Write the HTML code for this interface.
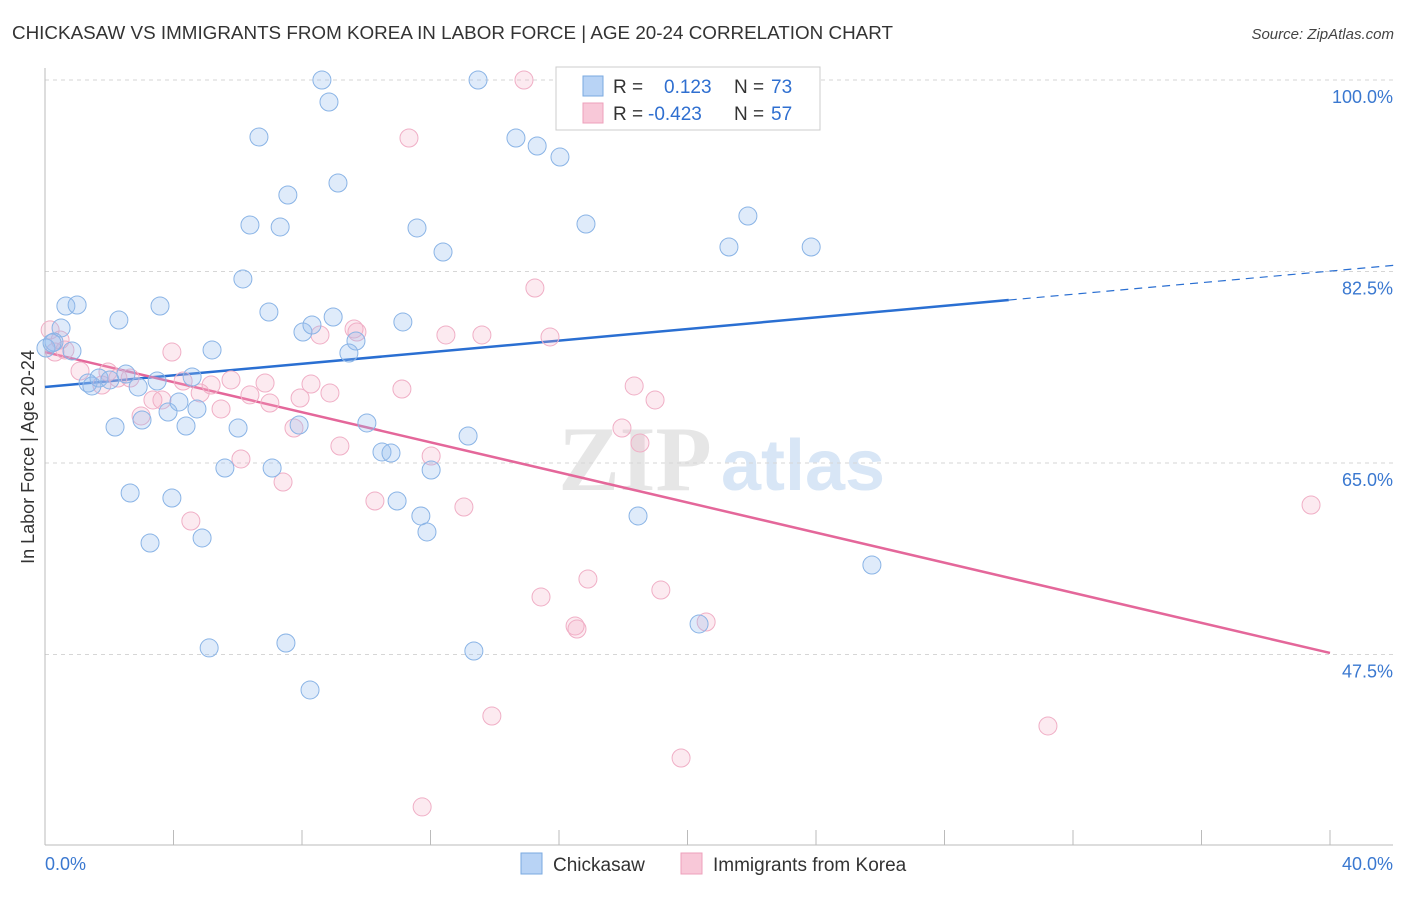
<!DOCTYPE html>
<html><head><meta charset="utf-8">
<style>
body{margin:0;background:#fff;font-family:"Liberation Sans",sans-serif;}
</style></head>
<body>
<svg id="c" width="1406" height="892" xmlns="http://www.w3.org/2000/svg" style="font-family:'Liberation Sans',sans-serif">
<text x="12" y="39" font-size="18.6" fill="#333" textLength="881" lengthAdjust="spacingAndGlyphs">CHICKASAW VS IMMIGRANTS FROM KOREA IN LABOR FORCE | AGE 20-24 CORRELATION CHART</text>
<text x="1394" y="39" font-size="15" fill="#444" text-anchor="end" font-style="italic">Source: ZipAtlas.com</text>
<g>
<text x="635" y="490" font-size="92" fill="#e6e6e6" text-anchor="middle" font-family="Liberation Serif,serif" font-weight="bold">ZIP</text>
<text x="803" y="490" font-size="72" fill="#d8e6f6" text-anchor="middle" font-weight="bold">atlas</text>
</g>
<g id="grid"></g>
<g id="axes"></g>
<g id="trend"></g>
<g id="pts"></g>
<text transform="translate(34,457) rotate(-90)" font-size="18" fill="#333" text-anchor="middle">In Labor Force | Age 20-24</text>
<g>
<rect x="556" y="67" width="264" height="63" fill="#fff" stroke="#ccc"/>
<rect x="583" y="76" width="20" height="20" fill="#b8d3f5" stroke="#7aa9e0"/>
<rect x="583" y="103" width="20" height="20" fill="#f8c8d8" stroke="#eea0bb"/>
<text x="613" y="93" font-size="19" fill="#333">R =</text>
<text x="664" y="93" font-size="19" fill="#2f6fd0">0.123</text>
<text x="734" y="93" font-size="19" fill="#333">N =</text>
<text x="771" y="93" font-size="19" fill="#2f6fd0">73</text>
<text x="613" y="120" font-size="19" fill="#333">R =</text>
<text x="648" y="120" font-size="19" fill="#2f6fd0">-0.423</text>
<text x="734" y="120" font-size="19" fill="#333">N =</text>
<text x="771" y="120" font-size="19" fill="#2f6fd0">57</text>
</g>
<g>
<rect x="521" y="853" width="21" height="21" fill="#b8d3f5" stroke="#7aa9e0"/>
<text x="553" y="871" font-size="19" fill="#333">Chickasaw</text>
<rect x="681" y="853" width="21" height="21" fill="#f8c8d8" stroke="#eea0bb"/>
<text x="713" y="871" font-size="19" fill="#333">Immigrants from Korea</text>
</g>
</svg>
<script>
const blueX=[8.62,13.48,16.53,8.84,6.66,14.66,15.32,16.03,9.12,7.56,6.38,7.32,11.58,16.84,21.88,21.29,23.85,12.39,6.16,0.65,1.00,3.58,6.97,2.30,8.97,11.14,8.03,8.31,0.50,9.68,0.28,9.46,5.20,0.84,2.52,3.49,4.58,1.34,1.46,1.68,2.02,2.90,4.73,3.83,4.17,3.02,2.18,4.39,6.01,7.91,10.02,13.17,10.49,10.77,5.60,7.07,12.02,2.65,3.95,10.96,11.70,18.46,11.89,4.89,3.27,25.74,20.36,5.11,7.50,13.35,8.25,0.03,0.22];
const blueY=[100,100,100.2,97.99,94.79,94.70,93.97,92.96,90.59,89.49,86.75,86.57,86.48,86.84,87.57,84.74,84.74,84.28,81.82,79.35,79.44,79.35,78.80,78.07,78.34,77.89,76.97,77.61,77.34,76.15,76.06,75.05,75.33,75.24,73.13,72.49,72.86,72.31,72.04,72.77,72.59,71.95,69.94,69.66,70.58,68.93,68.29,68.38,68.20,68.47,68.66,67.47,66.01,65.91,64.54,64.54,64.36,62.26,61.80,61.53,60.16,60.16,58.70,58.15,57.69,55.68,50.29,48.10,48.55,47.82,44.26,75.51,75.97];
const pinkX=[14.91,11.33,15.25,0.16,9.62,9.71,12.48,13.60,15.72,8.56,0.47,0.31,3.95,0.62,1.09,1.77,2.65,1.96,2.27,4.30,5.17,5.79,6.85,8.28,8.87,11.11,18.34,4.83,3.36,3.64,6.38,7.00,7.94,5.48,2.99,18.99,7.75,17.96,18.52,9.18,12.02,6.10,7.41,10.27,13.04,4.54,39.41,16.90,19.17,15.44,16.50,16.56,20.58,13.91,31.22,19.80,11.74];
const pinkY=[100,94.70,80.99,77.16,77.25,76.97,76.70,76.70,76.52,76.70,76.24,75.14,75.14,75.33,73.41,72.13,72.77,73.32,72.77,72.49,72.13,72.59,72.31,72.22,71.40,71.76,72.04,71.40,70.76,70.76,71.22,70.48,70.94,69.94,69.30,70.76,68.20,68.20,66.83,66.55,65.64,65.37,63.26,61.53,60.98,59.70,61.16,54.40,53.39,52.76,50.11,49.83,50.47,41.88,40.97,38.04,33.57];
const yTicks=[100,82.5,65,47.5];
const yTickLabels=["100.0%","82.5%","65.0%","47.5%"];
const xTickLabels=["0.0%","40.0%"];
const blueTrend=[71.95,0.2647];
const pinkTrend=[75.14,-0.6875];
const NS="http://www.w3.org/2000/svg";
const X=v=>45+v/40*1285, Y=v=>80+(100-v)/17.5*191.5;
function mk(p,tag,a){const e=document.createElementNS(NS,tag);for(const k in a)e.setAttribute(k,a[k]);document.getElementById(p).appendChild(e);return e;}
yTicks.forEach((t,i)=>{
 const l=mk('grid','line',{x1:45,x2:1393,y1:Y(t),y2:Y(t),stroke:'#d6d6d6','stroke-dasharray':'4,4'});
 
 
 const tx=mk('grid','text',{x:1393,y:Y(t)+23,'font-size':18,fill:'#3a78d0','text-anchor':'end'});
 tx.textContent=yTickLabels[i];
 
 
});
let a=mk('axes','line',{x1:45,x2:1393,y1:845,y2:845,stroke:'#bbb'});


a=mk('axes','line',{x1:45,x2:45,y1:68,y2:845,stroke:'#bbb'});


for(let i=0;i<=10;i++){const t=mk('axes','line',{x1:X(i*4),x2:X(i*4),y1:830,y2:845,stroke:'#bbb'});
 
 }
[[0,'start',45],[40,'end',1393]].forEach((d,i)=>{const t=mk('axes','text',{x:d[2],y:870,'font-size':18,fill:'#3a78d0','text-anchor':d[1]});t.textContent=xTickLabels[i];
 
 });
function dot(x,y,f,s,n){const c=mk('pts','circle',{cx:X(x),cy:Y(y),r:9,fill:f,stroke:s,'stroke-width':1});
 
 }
pinkX.forEach((x,i)=>dot(x,pinkY[i],'rgba(244,170,196,0.25)','#f0afc6','korea-point'));
blueX.forEach((x,i)=>dot(x,blueY[i],'rgba(150,190,240,0.3)','#8ab4e6','chickasaw-point'));
let t=mk('trend','line',{x1:X(0),y1:Y(blueTrend[0]),x2:X(30),y2:Y(blueTrend[0]+30*blueTrend[1]),stroke:'#2a6fd2','stroke-width':2.5});


t=mk('trend','line',{x1:X(30),y1:Y(blueTrend[0]+30*blueTrend[1]),x2:X(42),y2:Y(blueTrend[0]+42*blueTrend[1]),stroke:'#2a6fd2','stroke-width':1.2,'stroke-dasharray':'8,6'});


t=mk('trend','line',{x1:X(0),y1:Y(pinkTrend[0]),x2:X(40),y2:Y(pinkTrend[0]+40*pinkTrend[1]),stroke:'#e4679a','stroke-width':2.5});


</script>
</body></html>
